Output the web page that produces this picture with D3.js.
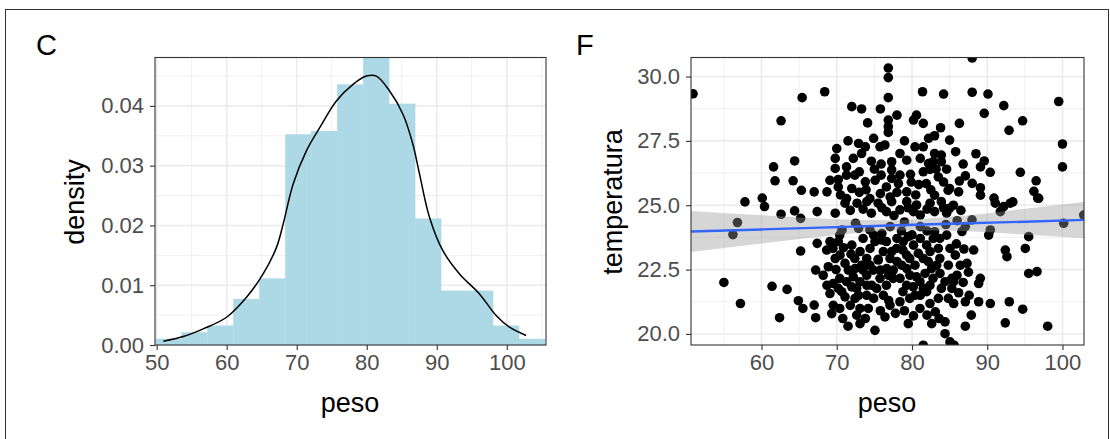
<!DOCTYPE html>
<html>
<head>
<meta charset="utf-8">
<script src="https://cdn.jsdelivr.net/npm/d3@7"></script>
<style>
body{margin:0;background:#fff;}
svg text{font-family:"Liberation Sans", Arial, sans-serif;}
</style>
</head>
<body>
<script>
// histogram of peso (panel C)
const histEdges = [49.8,53.51,57.22,60.93,64.64,68.35,72.06,75.77,79.48,83.19,86.9,90.61,94.32,98.03,101.74,105.45];
const histDensity = [0.00104,0.00214,0.00326,0.00771,0.01115,0.03526,0.03581,0.04361,0.0495,0.04037,0.02117,0.0091,0.0091,0.00326,0.00104];

// density curve
const curvePeso = [50.95,53.8,56.65,59.98,62.83,65.2,67.11,68.06,69.48,71.38,73.29,75.66,78.04,79.94,81.37,83.27,85.17,86.59,87.54,88.97,90.87,93.25,96.1,98.48,100.38,102.76];
const curveDensity = [0.00064,0.00142,0.0027,0.00464,0.00798,0.01189,0.01633,0.02023,0.02691,0.03247,0.03636,0.04082,0.04361,0.04499,0.04499,0.04249,0.0386,0.03359,0.02858,0.02134,0.01578,0.01189,0.00855,0.00492,0.00297,0.00159];

// scatter peso vs temperatura (panel F)
const scatterPts = [
 [50.9,29.33],[65.4,29.18],[62.6,28.28],[61.6,26.49],[64.4,26.72],[61.8,25.95],[64.2,25.95],[65.3,25.58],[67.0,25.52],[60.1,25.28],[57.8,25.13],[68.4,29.41],
 [76.85,30.33],[76.85,29.96],[76.85,29.18],[72.0,28.83],[73.3,28.74],[75.8,28.74],[74.1,28.2],[76.85,28.31],[76.85,28.05],[76.85,27.83],[81.4,29.41],[84.2,29.32],
 [80.6,28.5],[80.2,28.31],[81.5,28.18],[83.8,28.01],[83.0,27.70],[85.0,27.53],[73.8,27.27],[73.3,27.01],[75.75,27.27],[76.4,27.34],[80.4,27.27],[81.5,27.27],
 [69.8,26.82],[69.8,26.43],[72.2,26.82],[74.6,26.71],[78.4,27.01],[79.3,26.75],[81.1,26.82],[83.0,27.01],[83.9,26.95],[82.8,26.69],[83.9,26.69],[77.3,26.69],
 [77.3,26.37],[71.3,26.49],[71.3,26.17],[72.4,26.17],[75.9,26.17],[77.3,26.04],[78.4,26.17],[81.5,26.30],[83.5,26.10],[69.1,25.97],[68.7,25.52],[70.2,25.71],
 [72.0,25.65],[73.8,25.91],[75.1,25.97],[76.6,25.71],[78.2,25.84],[81.9,25.84],[71.3,25.26],[74.4,25.26],[77.1,25.32],[79.3,25.52],[83.0,25.39],[84.8,25.58],
 [82.2,26.62],[82.4,26.39],
 [88.0,30.72],[88.0,29.39],[90.1,29.32],[92.2,28.87],[89.6,28.57],[99.5,29.03],[86.3,28.18],[94.7,28.28],[92.9,27.91],[85.8,27.08],[100.0,27.38],[100.0,26.49],
 [89.6,26.72],[89.1,26.49],[90.4,26.28],[94.4,26.28],[87.1,26.14],[86.3,25.94],[88.0,25.85],[89.1,25.68],[96.5,25.95],[85.0,25.65],[86.2,25.52],[89.1,25.39],
 [90.9,25.28],[93.4,25.13],[96.2,25.54],[96.7,25.28],
 [60.4,24.95],[62.6,24.65],[64.4,24.78],[65.2,24.49],[67.4,24.75],[56.8,24.33],[56.2,23.86],[65.2,23.22],[67.4,23.52],[67.2,22.48],[55.0,22.0],[61.4,21.85],
 [63.4,21.73],[57.2,21.18],[64.9,21.29],[65.5,20.99],[67.0,21.12],[62.4,20.63],[67.2,20.63],
 [71.1,25.08],[72.7,25.08],[74.0,25.14],[75.5,25.08],[77.3,25.14],[79.3,25.14],[80.6,25.01],[82.4,25.08],[83.9,25.14],[85.0,24.88],[69.8,24.69],[74.6,24.69],
 [76.6,24.75],[78.4,24.82],[80.2,24.75],[81.1,24.62],[83.0,24.75],[84.6,24.69],[85.5,25.0],
 [70.7,24.04],[74.4,24.04],[77.1,24.17],[81.1,24.17],[83.0,23.97],[72.5,24.3],[79.0,24.35],[84.5,24.25],[76.0,23.9],[80.0,23.85],
 [68.66,23.26],[68.88,22.61],[70.21,23.59],[70.43,23.06],[71.1,22.74],[71.54,22.48],[69.54,21.96],[69.1,21.57],[70.21,21.77],[71.32,22.03],[71.99,21.83],
 [69.54,21.11],[69.33,20.79],[71.1,21.44],[70.66,21.64],[72.43,22.54],[73.32,22.67],[73.98,22.93],[74.42,23.32],[75.08,23.59],[75.97,23.65],[76.19,23.2],
 [75.52,22.87],[74.86,22.48],[73.98,22.28],[73.09,22.03],[72.65,21.77],[72.43,21.38],[73.98,21.5],[74.64,21.89],[75.75,22.16],[76.64,22.54],[77.08,22.93],
 [73.09,20.99],[74.19,20.99],[72.65,20.73],[73.09,20.4],[75.08,20.14],[77.08,21.11],[76.41,20.66],[77.96,23.32],[78.84,23.59],[79.51,23.78],[79.29,23.06],
 [78.63,22.67],[77.52,22.48],[78.41,22.16],[79.73,22.28],[80.4,22.67],[80.84,23.13],[80.17,21.83],[79.29,21.89],[81.06,22.03],[80.4,21.5],[81.06,20.99],
 [79.51,20.4],[81.95,23.45],[82.83,23.71],[83.5,23.32],[83.28,22.67],[83.72,22.35],[82.17,22.81],[81.73,22.35],[82.39,21.89],[81.95,21.64],[82.39,21.18],
 [84.61,23.84],[85.05,23.32],[84.83,22.67],[84.39,22.03],[84.83,21.38],[82.62,20.4],[84.39,20.47],[84.39,20.01],[85.05,19.69],[81.5,19.56],[85.6,19.56],
 [91.07,25.08],[93.06,25.08],[92.19,24.95],[96.84,25.27],[91.74,24.75],[87.97,24.43],[87.09,24.17],[90.19,23.84],[90.41,24.04],[95.51,23.78],[95.06,23.32],
 [100.16,24.3],[102.82,24.62],[86.64,23.98],[88.2,23.26],[92.4,23.26],[92.62,23.0],[85.76,23.06],[86.42,22.67],[87.31,22.74],[85.98,22.28],[85.54,22.03],
 [89.08,22.16],[88.86,21.96],[95.51,22.35],[96.61,22.42],[85.54,21.18],[87.09,21.25],[88.86,21.25],[90.41,21.18],[92.93,21.25],[94.71,20.96],[87.88,20.73],
 [87.09,20.3],[92.4,20.43],[98.03,20.3],
 [69.1,23.59],[69.8,22.93],[68.2,22.28],[68.7,21.89],[70.4,22.16],[72.2,22.22],[73.5,22.48],[72.9,21.5],[71.8,21.11],[70.4,20.99],[74.0,21.89],[75.3,21.77],
 [74.9,21.38],[76.2,21.5],[76.6,21.89],[77.5,22.16],[76.9,22.28],[78.0,22.81],[77.3,23.2],[76.6,23.59],[78.0,23.71],[78.8,23.26],[79.7,22.93],[79.3,22.54],
 [78.8,21.64],[78.4,21.25],[79.7,21.38],[81.1,21.5],[81.5,21.77],[82.8,22.16],[82.6,22.54],[81.5,22.93],[82.4,23.2],[83.7,22.93],[83.9,21.77],[83.5,21.38],
 [83.1,20.86],[82.0,20.73],[85.3,22.16],[85.3,21.77],[74.4,22.67],[73.1,23.2],[72.0,23.45],[73.5,23.71],[74.9,23.84],[70.4,23.84],[69.5,23.32],[72.4,22.93],
 [75.8,22.48],[80.6,22.22],[80.2,23.45],[81.1,23.71],[83.7,23.71],
 [70.5,25.4],[73.0,25.5],[75.8,25.45],[78.0,25.5],[80.5,25.4],[82.5,25.6],[84.2,25.9],[76.0,24.9],[73.5,24.85],[79.5,24.9],[82.0,24.85],[71.8,24.8],
 [86.5,24.8],[75.0,26.4],[79.8,26.2],[80.9,25.8],[84.6,26.4],[73.0,26.3],[70.2,26.0],[86.8,26.6],[88.5,27.0],[79.0,27.5],[82.2,27.6],[74.9,27.6],
 [71.5,27.5],[78.0,28.5],[70.0,27.2],
 [86.8,22.0],[87.5,22.4],[86.2,21.6],[85.9,23.5],[86.9,23.3],[87.6,21.5],[70.8,20.6],[71.5,20.3],[73.8,20.6],[75.8,20.9],[77.8,20.8],[79.0,20.9],
 [80.2,20.7],[83.6,20.6],[76.9,21.3],[75.5,22.9],[71.9,23.1],[70.9,23.35],[69.9,22.5],[78.6,24.0],[82.0,24.0],[72.9,24.1],[86.0,24.4],[84.2,24.9],
 [77.6,24.6],[73.9,25.6],[79.9,25.9],[83.2,26.4],[75.9,26.6],[72.9,27.4]
];

// linear fit with confidence band
const smoothPeso = [50.63,60,70,78,85,95,102.86];
const smoothFit = [23.98,24.06,24.15,24.22,24.28,24.36,24.43];
const smoothLow = [23.18,23.51,23.84,24.02,24.01,23.86,23.72];
const smoothHigh = [24.78,24.61,24.46,24.42,24.55,24.86,25.14];

const histXTicks = [50,60,70,80,90,100];
const histYTicks = [0,0.01,0.02,0.03,0.04];
const scatXTicks = [60,70,80,90,100];
const scatYTicks = [20,22.5,25,27.5,30];

function drawGrid(g, x, y, xMajor, xMinor, yMajor, yMinor){
    const [x0,x1] = x.range();
    const [y0,y1] = y.range();
    g.selectAll(".minx").data(xMinor).enter().append("line")
        .attr("x1", d=>x(d)).attr("x2", d=>x(d)).attr("y1", y0).attr("y2", y1)
        .attr("stroke","#EBEBEB").attr("stroke-width",0.8);
    g.selectAll(".miny").data(yMinor).enter().append("line")
        .attr("y1", d=>y(d)).attr("y2", d=>y(d)).attr("x1", x0).attr("x2", x1)
        .attr("stroke","#EBEBEB").attr("stroke-width",0.8);
    g.selectAll(".majx").data(xMajor).enter().append("line")
        .attr("x1", d=>x(d)).attr("x2", d=>x(d)).attr("y1", y0).attr("y2", y1)
        .attr("stroke","#EBEBEB").attr("stroke-width",1.6);
    g.selectAll(".majy").data(yMajor).enter().append("line")
        .attr("y1", d=>y(d)).attr("y2", d=>y(d)).attr("x1", x0).attr("x2", x1)
        .attr("stroke","#EBEBEB").attr("stroke-width",1.6);
}

function styleAxis(sel){
    sel.select(".domain").remove();
    sel.selectAll(".tick line").attr("stroke","#333333").attr("stroke-width",1.1);
    sel.selectAll(".tick text").attr("fill","#4D4D4D").attr("font-size","22px")
        .attr("font-family","Liberation Sans, Arial, sans-serif");
}

function main(){
    const svg = d3.select("body").append("svg")
        .attr("width", 1110)
        .attr("height", 439);

    svg.append("rect").attr("width",1110).attr("height",439).attr("fill","#fff");
    // outer frame
    svg.append("rect")
        .attr("x",5.5).attr("y",9.5).attr("width",1103).attr("height",445)
        .attr("fill","none").attr("stroke","#333").attr("stroke-width",1);

    const top = 57.5, bottom = 345;

    // ---------- panel C ----------
    const xH = d3.scaleLinear().domain([49.76,105.6]).range([155,546]);
    const yH = d3.scaleLinear().domain([0,0.0481]).range([bottom,top]);

    svg.append("clipPath").attr("id","clipC").append("rect")
        .attr("x",155).attr("y",top).attr("width",546-155).attr("height",bottom-top);

    const gC = svg.append("g");
    drawGrid(gC, xH, yH, histXTicks, [55,65,75,85,95,105], histYTicks, [0.005,0.015,0.025,0.035,0.045]);

    const bars = histDensity.map((d,i)=>({x0:histEdges[i], x1:histEdges[i+1], d:d}));
    const plotC = gC.append("g").attr("clip-path","url(#clipC)");
    plotC.selectAll("rect.bar").data(bars).enter().append("rect")
        .attr("class","bar")
        .attr("x", d=>xH(d.x0))
        .attr("width", d=>xH(d.x1)-xH(d.x0)+0.3)
        .attr("y", d=>yH(d.d))
        .attr("height", d=>yH(0)-yH(d.d))
        .attr("fill","#ADD8E6");

    const dLine = d3.line()
        .x(d=>xH(d[0])).y(d=>yH(d[1]))
        .curve(d3.curveCatmullRom);
    plotC.append("path")
        .datum(curvePeso.map((p,i)=>[p,curveDensity[i]]))
        .attr("d", dLine)
        .attr("fill","none").attr("stroke","#000").attr("stroke-width",1.5);

    gC.append("rect").attr("x",155).attr("y",top).attr("width",546-155).attr("height",bottom-top)
        .attr("fill","none").attr("stroke","#333333").attr("stroke-width",1.1);

    gC.append("g").attr("transform","translate(0,"+bottom+")")
        .call(d3.axisBottom(xH).tickValues(histXTicks).tickSize(5).tickPadding(4))
        .call(styleAxis);
    gC.append("g").attr("transform","translate(155,0)")
        .call(d3.axisLeft(yH).tickValues(histYTicks).tickSize(5).tickPadding(6).tickFormat(d3.format(".2f")))
        .call(styleAxis);

    svg.append("text").attr("x",350).attr("y",412).attr("text-anchor","middle")
        .attr("font-size","27px").text("peso");
    svg.append("text").attr("transform","translate(84,202) rotate(-90)").attr("text-anchor","middle")
        .attr("font-size","27px").text("density");
    svg.append("text").attr("x",36).attr("y",55).attr("font-size","29px").text("C");

    // ---------- panel F ----------
    const xS = d3.scaleLinear().domain([50.63,102.86]).range([691,1084]);
    const yS = d3.scaleLinear().domain([19.57,30.74]).range([bottom,top]);

    svg.append("clipPath").attr("id","clipF").append("rect")
        .attr("x",691).attr("y",top).attr("width",1084-691).attr("height",bottom-top);

    const gF = svg.append("g");
    drawGrid(gF, xS, yS, scatXTicks, [55,65,75,85,95], scatYTicks, [21.25,23.75,26.25,28.75]);

    const plotF = gF.append("g").attr("clip-path","url(#clipF)");
    plotF.selectAll("circle").data(scatterPts).enter().append("circle")
        .attr("cx", d=>xS(d[0])).attr("cy", d=>yS(d[1])).attr("r",4.8)
        .attr("fill","#000");

    const band = smoothPeso.map((p,i)=>({p:p, lo:smoothLow[i], hi:smoothHigh[i], fit:smoothFit[i]}));
    plotF.append("path").datum(band)
        .attr("d", d3.area().x(d=>xS(d.p)).y0(d=>yS(d.lo)).y1(d=>yS(d.hi)).curve(d3.curveMonotoneX))
        .attr("fill","#999999").attr("fill-opacity",0.4);
    plotF.append("path").datum(band)
        .attr("d", d3.line().x(d=>xS(d.p)).y(d=>yS(d.fit)))
        .attr("fill","none").attr("stroke","#3366FF").attr("stroke-width",2.4);

    gF.append("rect").attr("x",691).attr("y",top).attr("width",1084-691).attr("height",bottom-top)
        .attr("fill","none").attr("stroke","#333333").attr("stroke-width",1.1);

    gF.append("g").attr("transform","translate(0,"+bottom+")")
        .call(d3.axisBottom(xS).tickValues(scatXTicks).tickSize(5).tickPadding(4))
        .call(styleAxis);
    gF.append("g").attr("transform","translate(691,0)")
        .call(d3.axisLeft(yS).tickValues(scatYTicks).tickSize(5).tickPadding(6).tickFormat(d3.format(".1f")))
        .call(styleAxis);

    svg.append("text").attr("x",887).attr("y",412).attr("text-anchor","middle")
        .attr("font-size","27px").text("peso");
    svg.append("text").attr("transform","translate(622,202) rotate(-90)").attr("text-anchor","middle")
        .attr("font-size","27px").text("temperatura");
    svg.append("text").attr("x",576).attr("y",55).attr("font-size","29px").text("F");
}
main();
</script>
</body>
</html>
